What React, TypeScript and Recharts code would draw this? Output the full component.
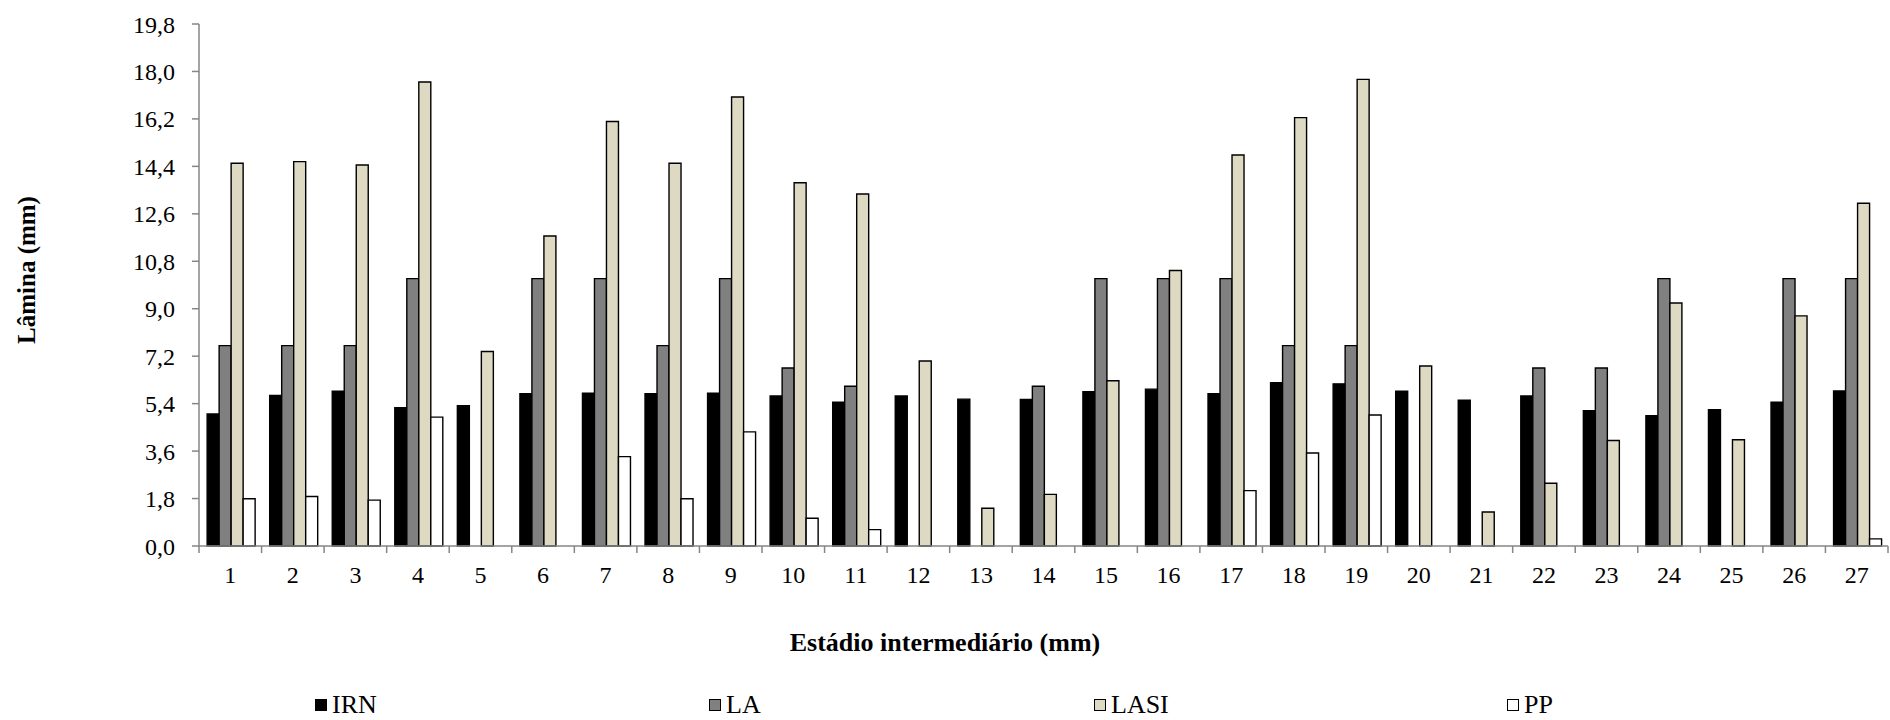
import { BarChart, Bar, XAxis, YAxis } from 'recharts'

const categories = ['1', '2', '3', '4', '5', '6', '7', '8', '9', '10', '11', '12', '13', '14', '15', '16', '17', '18', '19', '20', '21', '22', '23', '24', '25', '26', '27']

const irn = [5.01, 5.71, 5.87, 5.25, 5.32, 5.78, 5.8, 5.78, 5.8, 5.69, 5.45, 5.69, 5.57, 5.56, 5.85, 5.95, 5.78, 6.19, 6.15, 5.87, 5.53, 5.69, 5.13, 4.94, 5.17, 5.45, 5.88]
const la = [7.6, 7.6, 7.6, 10.14, null, 10.14, 10.14, 7.6, 10.14, 6.75, 6.06, null, null, 6.06, 10.14, 10.14, 10.14, 7.6, 7.6, null, null, 6.75, 6.75, 10.14, null, 10.14, 10.14]
const lasi = [14.52, 14.58, 14.45, 17.6, 7.38, 11.76, 16.1, 14.52, 17.03, 13.78, 13.35, 7.02, 1.43, 1.96, 6.27, 10.45, 14.83, 16.25, 17.7, 6.83, 1.29, 2.38, 4.0, 9.22, 4.03, 8.73, 13.0]
const pp = [1.79, 1.88, 1.74, 4.89, null, null, 3.39, 1.79, 4.33, 1.05, 0.62, null, null, null, null, null, 2.1, 3.53, 4.97, null, null, null, null, null, null, null, 0.27]

const yTicks = [0, 1.8, 3.6, 5.4, 7.2, 9.0, 10.8, 12.6, 14.4, 16.2, 18.0, 19.8]

const seriesNames = ['IRN', 'LA', 'LASI', 'PP']
const seriesColors = ['#000000', '#808080', '#ddd9c3', '#ffffff']

const rows = categories.map((c, i) => ({
  name: c,
  IRN: irn[i],
  LA: la[i],
  LASI: lasi[i],
  PP: pp[i],
}))

const FONT = '"Liberation Serif", "Times New Roman", serif'
const AXIS_GRAY = '#868686'

const legendLeft = [315, 709, 1094, 1507]

// Excel-style category axis: tick marks sit between the groups, labels in the middle
function CategoryTick(props: any) {
  const { x, y, payload, index, width } = props
  const band = width / categories.length
  const isLast = index === categories.length - 1
  return (
    <g>
      <line x1={x - band / 2} x2={x - band / 2} y1={y} y2={y + 7} stroke={AXIS_GRAY} strokeWidth={1.5} />
      {isLast && <line x1={x + band / 2} x2={x + band / 2} y1={y} y2={y + 7} stroke={AXIS_GRAY} strokeWidth={1.5} />}
      <text x={x} y={y + 28} dy="0.355em" textAnchor="middle" fontFamily={FONT} fontSize={24} fill="#000">
        {payload.value}
      </text>
    </g>
  )
}

export default function App() {
  return (
    <div style={{ position: 'absolute', left: 0, top: 0, width: 1890, height: 720, background: '#fff', fontFamily: FONT }}>
      <BarChart
        width={1890}
        height={720}
        data={rows}
        margin={{ top: 24, right: 2, bottom: 144, left: 0 }}
        barCategoryGap="13%"
        barGap={0}
      >
        <XAxis
          dataKey="name"
          height={30}
          axisLine={{ stroke: AXIS_GRAY, strokeWidth: 1.5 }}
          tickLine={false}
          tickSize={0}
          tickMargin={0}
          interval={0}
          tick={<CategoryTick />}
        />
        <YAxis
          width={199}
          domain={[0, 19.8]}
          ticks={yTicks}
          interval={0}
          axisLine={{ stroke: AXIS_GRAY, strokeWidth: 1.5 }}
          tickLine={{ stroke: AXIS_GRAY, strokeWidth: 1.5 }}
          tickSize={7}
          tickMargin={17}
          tick={{ fontFamily: FONT, fontSize: 24, fill: '#000' }}
          tickFormatter={(v: number) => v.toFixed(1).replace('.', ',')}
        />
        {seriesNames.map((s, i) => (
          <Bar key={s} dataKey={s} fill={seriesColors[i]} stroke="#000" strokeWidth={1.4} isAnimationActive={false} />
        ))}
      </BarChart>

      <div style={{ position: 'absolute', left: 945, top: 628, transform: 'translateX(-50%)', fontWeight: 'bold', fontSize: 26, whiteSpace: 'nowrap', lineHeight: '30px' }}>
        Estádio intermediário (mm)
      </div>

      <div
        style={{
          position: 'absolute',
          left: 27,
          top: 270,
          transform: 'translate(-50%, -50%) rotate(-90deg)',
          fontWeight: 'bold',
          fontSize: 25,
          whiteSpace: 'nowrap',
          lineHeight: '30px',
        }}
      >
        Lâmina (mm)
      </div>

      {seriesNames.map((s, i) => (
        <div key={s} style={{ position: 'absolute', left: legendLeft[i], top: 690, display: 'flex', alignItems: 'center', height: 30, fontSize: 26 }}>
          <span style={{ width: 10, height: 10, background: seriesColors[i], border: '1px solid #000', marginRight: 5, display: 'inline-block' }} />
          <span>{s}</span>
        </div>
      ))}
    </div>
  )
}
